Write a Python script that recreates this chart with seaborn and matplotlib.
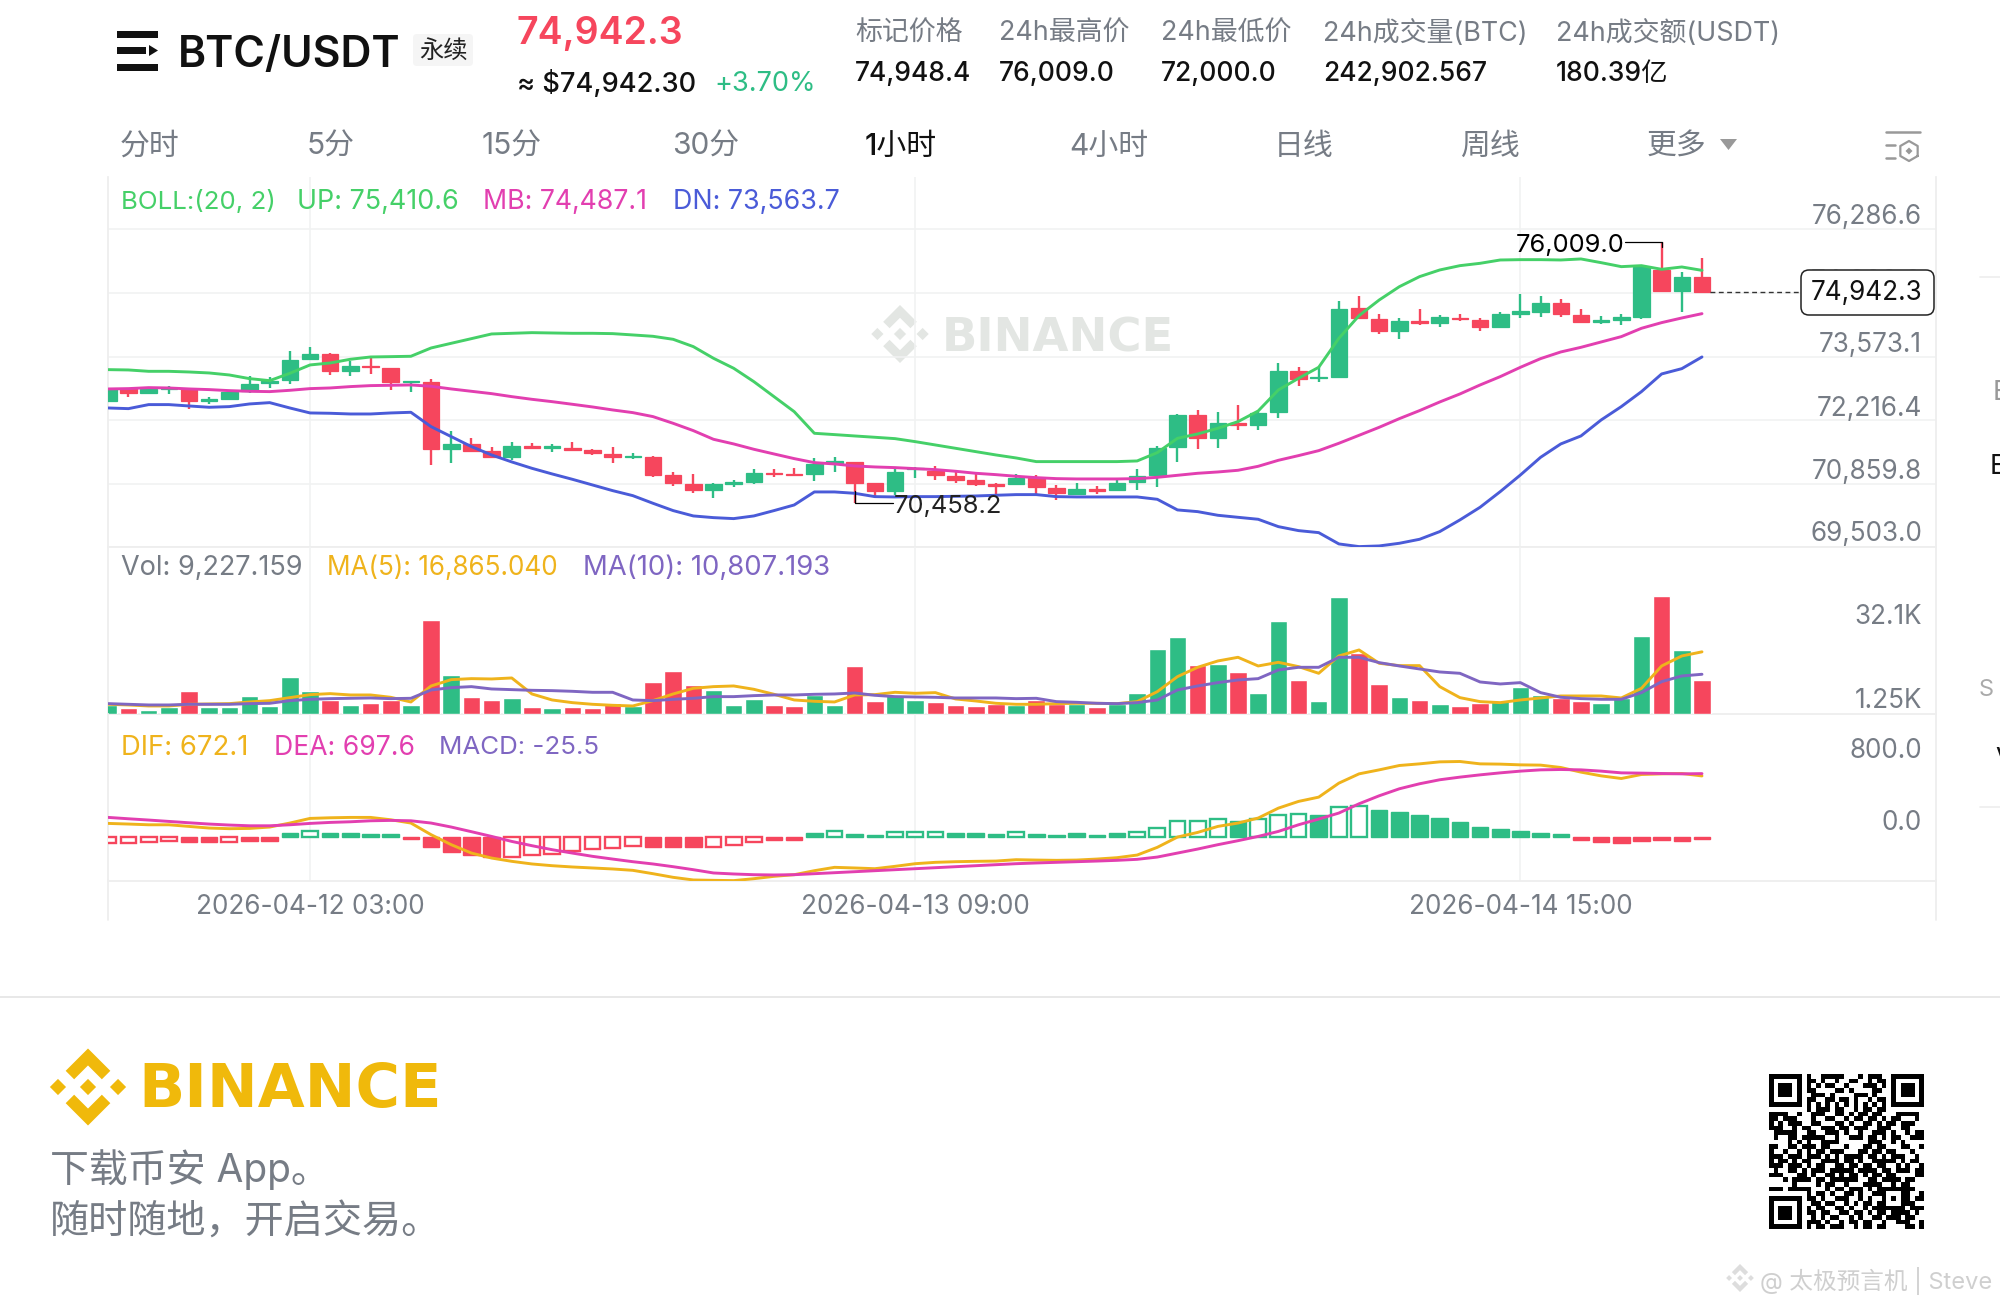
import numpy as np
import pandas as pd
import matplotlib.pyplot as plt
from matplotlib.patches import Polygon, FancyBboxPatch, Rectangle
import seaborn as sns

# hourly candles, 2026-04-11 17:00 onwards
opens = [72632,72874,72803,72888,72881,72625,72660,72831,73002,73066,73521,73627,73257,73378,73322,73023,73030,71608,71715,71551,
         71437,71658,71629,71622,71580,71487,71423,71430,71039,70854,70719,70861,70897,71096,71075,71061,71302,71316,70869,70712,
         71174,71125,71032,70933,70854,70854,70975,70762,70648,70748,70719,70890,71046,71636,72333,71828,72148,72106,72390,73265,
         73108,73144,74601,74374,74125,74338,74296,74402,74353,74196,74488,74516,74708,74466,74317,74345,74416,75419,74978,75263]
closes = [72874,72803,72874,72909,72618,72660,72824,72987,73058,73506,73627,73257,73371,73343,73023,73058,71608,71715,71565,71437,
          71658,71622,71658,71587,71508,71423,71459,71053,70869,70719,70854,70897,71089,71061,71046,71288,71338,70883,70712,71117,
          71188,71053,70947,70854,70812,70989,70783,70662,70741,70705,70869,71032,71615,72333,71836,72148,72106,72376,73265,73101,
          73144,74594,74388,74125,74338,74296,74409,74367,74196,74480,74537,74708,74480,74317,74360,74416,75490,74978,75263,74942.3]
highs = [72895,72895,72895,72945,72895,72717,72838,73165,73144,73691,73769,73641,73485,73535,73322,73058,73087,71985,71828,71651,
         71743,71722,71715,71750,71594,71651,71508,71459,71110,71061,70883,70940,71181,71167,71188,71402,71423,71316,70869,71203,
         71224,71245,71103,71096,70869,71061,71046,70826,70869,70812,70940,71174,71672,72347,72433,72383,72547,72390,73442,73343,
         73357,74758,74864,74480,74402,74580,74459,74480,74388,74523,74907,74864,74793,74580,74431,74473,75526,76009,75383,75682]
lows = [72632,72717,72795,72767,72461,72561,72646,72788,72902,72995,73499,73186,73158,73194,72859,72824,71253,71295,71565,71409,
        71366,71608,71544,71551,71466,71309,71381,71004,70819,70655,70556,70783,70847,71004,71039,70918,71110,70458.2,70549,70620,
        70982,70940,70869,70812,70620,70840,70641,70513,70634,70634,70705,70726,70783,71324,71608,71629,72006,71999,72255,72952,
        73037,73144,74388,74054,73947,74239,74210,74324,74111,74189,74395,74424,74409,74310,74274,74239,74374,74978,74516,74942]

boll_up = [73293,73286,73257,73257,73243,73222,73179,73101,73058,73215,73393,73435,73514,73563,73570,73578,73755,73855,73954,74054,
           74068,74082,74075,74068,74068,74061,74033,74004,73940,73784,73535,73322,73037,72717,72397,71935,71907,71878,71850,71821,
           71757,71686,71615,71544,71473,71409,71331,71331,71331,71331,71331,71345,71523,71828,71921,72042,72184,72411,72859,73108,
           73343,73961,74445,74779,75063,75277,75419,75511,75561,75632,75639,75639,75632,75654,75575,75490,75511,75433,75483,75410.6]
boll_mb = [72881,72888,72909,72902,72881,72867,72845,72831,72824,72852,72888,72902,72931,72952,72959,72966,72938,72881,72831,72781,
           72717,72660,72610,72554,72497,72433,72376,72291,72148,71992,71807,71708,71594,71494,71395,71309,71281,71238,71217,71203,
           71181,71160,71125,71082,71053,71018,70989,70968,70961,70961,70961,70968,70996,71039,71082,71110,71146,71231,71359,71459,
           71565,71722,71892,72063,72248,72419,72603,72774,72966,73144,73343,73528,73670,73769,73883,73997,74175,74296,74395,74487.1]
boll_dn = [72475,72461,72547,72547,72518,72490,72504,72561,72589,72475,72369,72362,72347,72347,72369,72383,72077,71864,71651,71473,
           71324,71188,71068,70954,70833,70712,70605,70442,70286,70172,70136,70115,70172,70286,70406,70684,70684,70655,70584,70577,
           70584,70584,70591,70598,70613,70627,70627,70584,70577,70577,70577,70577,70527,70300,70264,70186,70143,70101,69944,69859,
           69816,69575,69518,69532,69589,69674,69838,70087,70357,70691,71046,71423,71708,71878,72219,72504,72824,73201,73314,73563.7]

volumes = [2520,1710,1260,2070,6210,2070,2070,5040,2250,10080,6300,3870,2610,3150,3870,2610,25380,10530,4680,3960,
           4320,2070,1710,2070,1800,2970,2250,8820,11610,7920,6570,2610,4230,2610,2160,5130,2610,13050,3600,5130,
           3960,3420,2610,2250,2790,2520,3870,2790,2700,2070,2790,5670,17550,20790,13410,13590,11520,5760,25290,9270,
           3600,31770,16650,8190,4770,3870,2790,2250,3060,3690,7470,5220,4320,3690,3060,4320,21150,32040,17280,9227.159]
vol_ma5 = [2700,2520,2250,2250,2700,2790,2880,3330,3690,4500,5310,5580,5220,5220,4590,3330,7650,9360,9630,9540,
           9810,5490,3870,3150,2700,2430,2250,3690,5490,7020,7470,7650,6750,5400,3870,3510,3330,5220,5310,5940,
           5670,5850,4140,3600,2970,2700,2700,2880,2970,2970,2880,3420,6120,10170,12690,14400,15390,13050,14040,12870,
           11070,15750,17370,13770,13140,13140,7470,4500,3420,3150,3870,4410,4950,4950,4950,4410,7020,13050,15750,16865.04]
vol_ma10 = [2880,2700,2520,2520,2700,2700,2700,2880,2970,3690,4050,4230,4320,4410,4230,4320,6570,7200,7470,6840,
            6660,6480,6390,6210,5940,5940,3870,3690,4050,4320,4770,4770,5040,5220,5220,5400,5490,5760,5130,4770,
            4680,4590,4410,4410,4410,4230,4320,3420,3240,2970,2880,3150,3870,6570,7650,8550,9270,9630,11970,12690,
            12690,15390,15390,13950,13050,12240,11430,11070,8730,8190,8550,5850,4590,4230,4050,4050,5850,8820,10350,10807.193]

dif = [150,143,135,135,117,99,92,95,110,154,205,212,216,216,190,154,26,-84,-176,-231,
       -267,-296,-315,-329,-340,-351,-366,-403,-443,-472,-476,-479,-458,-432,-414,-370,-333,-340,-348,-322,
       -293,-278,-271,-267,-264,-249,-253,-256,-253,-242,-227,-198,-113,0,51,117,154,209,318,392,
       439,593,695,739,787,805,827,831,805,802,794,791,765,714,673,644,688,695,699,672.1]
dea = [216,201,187,172,157,143,132,124,124,135,150,161,168,179,183,179,154,110,59,7,
       -48,-95,-139,-176,-212,-242,-271,-296,-326,-359,-395,-406,-414,-417,-414,-403,-392,-381,-370,-359,
       -348,-337,-326,-315,-304,-293,-285,-278,-271,-264,-256,-245,-220,-176,-132,-84,-40,7,62,135,
       198,264,366,454,531,586,630,659,684,706,725,739,743,739,725,706,703,699,695,697.6]
macd = [-66,-66,-55,-48,-51,-51,-59,-40,-40,40,62,40,40,33,29,-26,-113,-165,-201,-220,
        -216,-194,-183,-157,-135,-124,-99,-106,-110,-113,-106,-84,-55,-37,-37,40,62,37,26,51,
        59,59,44,40,37,51,33,22,40,26,40,51,99,172,172,194,179,198,242,253,
        242,326,337,300,275,238,205,165,110,88,62,48,29,-29,-51,-66,-44,-29,-40,-25.5]
macd_hollow = [0,1,2,3,6,10,20,21,22,23,24,25,26,30,31,32,36,39,40,41,45,51,52,53,54,55,57,58,59,61,62]

price_ticks = [76286.6, 74929.8, 73573.1, 72216.4, 70859.8, 69503.0]
price_labels = ['76,286.6', '73,573.1', '72,216.4', '70,859.8', '69,503.0']
time_ticks = [10, 40, 70]
time_labels = ['2026-04-12 03:00', '2026-04-13 09:00', '2026-04-14 15:00']
tabs = ['分时', '5分', '15分', '30分', '1小时', '4小时', '日线', '周线', '更多']
stat_names = ['标记价格', '24h最高价', '24h最低价', '24h成交量(BTC)', '24h成交额(USDT)']
stat_values = ['74,948.4', '76,009.0', '72,000.0', '242,902.567', '180.39亿']

qr_top = ['0100111110001011100','0110100100110010110','0101011001000111010','0110000110100001100',
          '0011101000011101000','0110011011010010110','0101010101010101010']
qr_mid = ['000000001011101100101101100000000','111100100111001101011011000111110','110111000100110010110110101100010',
          '101011100110001101001101011011100','111001011001110110111001110011000','011111001100111010010011101001011',
          '010011011111001001110110101100111','000010101001111000000111001010000','110011011101100010001101100011001',
          '100100101011011100011011011000100','111011101110101011110110101110010','101101011001111011010011111010110',
          '111011101011001101101101100101001','010011010111011111011110110111011','111000110100110101101011011000011',
          '000101111011011111100110111101100','000001000010110010001111001011000','111011111000101101110101111101100',
          '000000001011010011010011000101001']
qr_bot = ['01101001110010100101011011','00110110010101101101011100','01011001101001011010010111','01101100110110101101111010',
          '00101011001010011011101100','01110100101101100100111001','01011011100101101100001101']

GREEN = '#2ebd85'
RED = '#f6465d'
GRID = '#f1f2f2'
GRAY = '#767c85'
UP_C = '#45d068'
MB_C = '#e23fb0'
DN_C = '#4a5bd8'
YEL = '#efb31c'
PUR = '#7f66c2'

sns.set_theme(style='white')
plt.rcParams['font.family'] = ['Inter', 'Noto Sans CJK SC', 'DejaVu Sans']
plt.rcParams['axes.unicode_minus'] = False

W, H = 2000, 1305
fig = plt.figure(figsize=(W / 100, H / 100), dpi=100, facecolor='white')

# pixel-space layers for the app chrome around the panes
bg = fig.add_axes([0, 0, 1, 1], zorder=0)
fg = fig.add_axes([0, 0, 1, 1], zorder=5, facecolor='none')
for a in (bg, fg):
    a.set_xlim(0, W)
    a.set_ylim(H, 0)
    a.axis('off')


def pane(top, bottom, zorder=2):
    ax = fig.add_axes([108.3 / W, 1 - bottom / H, (1936 - 108.3) / W, (bottom - top) / H], zorder=zorder, facecolor='none')
    ax.set_xlim(0, 90.6)
    ax.set_xticks(time_ticks)
    ax.set_xticklabels([])
    ax.grid(True, axis='x', color=GRID, lw=1.2)
    ax.tick_params(length=0, labelleft=False)
    ax.set_yticks([])
    ax.set_xlabel('')
    ax.set_ylabel('')
    for s in ax.spines.values():
        s.set_color('#eeeeee')
        s.set_linewidth(1.3)
    ax.spines['top'].set_visible(False)
    ax.set_axisbelow(True)
    return ax


def text(x, y, s, size, color='black', ax=fg, **kw):
    # centre the glyphs the way the app does, text sits a touch low
    kw.setdefault('va', 'center')
    return ax.text(x, y + 9, s, fontsize=size, color=color, **kw)


def logo(ax, cx, cy, r, color):
    def poly(pts):
        ax.add_patch(Polygon([(cx + px * r, cy + py * r) for px, py in pts], closed=True, fc=color, ec='none'))
    d = 0.21
    for ox in (-0.78, 0, 0.78):
        poly([(ox - d, 0), (ox, -d), (ox + d, 0), (ox, d)])
    for sign in (-1, 1):
        poly([(0, sign), (0.58, sign * 0.42), (0.36, sign * 0.2), (0, sign * 0.56), (-0.36, sign * 0.2), (-0.58, sign * 0.42)])


idx = np.arange(len(closes))
up = np.array(closes) >= np.array(opens)
cols = np.where(up, GREEN, RED)

# ---- price pane
ax1 = pane(176.7, 547.3)
ax1.set_ylim(69503.0, 77408.6)
ax1.set_yticks(price_ticks)
ax1.grid(True, axis='y', color=GRID, lw=1.2)
ax1.vlines(idx, lows, highs, colors=cols, lw=1.7, zorder=2)
ax1.bar(idx, np.abs(np.array(closes) - np.array(opens)), bottom=np.minimum(opens, closes), width=0.82,
        color=cols, edgecolor=cols, lw=0.9, zorder=3)
for vals, c in ((boll_up, UP_C), (boll_mb, MB_C), (boll_dn, DN_C)):
    sns.lineplot(x=idx, y=vals, color=c, lw=2.1, estimator=None, sort=False, ax=ax1, zorder=4)
ax1.set_xlim(0, 90.6)
ax1.set_xlabel('')
ax1.set_ylabel('')
ax1.tick_params(labelleft=False)

# high / low / last price markers
ax1.plot([75.2, 77, 77], [76009, 76009, 75900], color='black', lw=0.9, zorder=5)
ax1.text(75.15, 75950, '76,009.0', ha='right', va='center', fontsize=18.4, color='black', zorder=6)
ax1.plot([37, 37, 38.9], [70700, 70458.2, 70458.2], color='black', lw=0.9, zorder=5)
ax1.text(38.95, 70370, '70,458.2', ha='left', va='center', fontsize=18.4, color='#222222', zorder=6)
ax1.plot([79.4, 83.8], [closes[-1], closes[-1]], color='#333333', lw=1, ls=(0, (3.5, 2.5)), zorder=5)

# ---- volume pane
ax2 = pane(547.3, 714.3)
ax2.set_ylim(0, 45090)
vol_df = pd.DataFrame({'i': idx, 'v': volumes, 'side': np.where(up, 'up', 'down')})
sns.barplot(data=vol_df, x='i', y='v', hue='side', palette={'up': GREEN, 'down': RED}, native_scale=True,
            dodge=False, width=0.87, saturation=1, legend=False, ax=ax2, zorder=3)
sns.lineplot(x=idx, y=vol_ma5, color=YEL, lw=2.1, estimator=None, sort=False, ax=ax2, zorder=4)
sns.lineplot(x=idx, y=vol_ma10, color=PUR, lw=2.1, estimator=None, sort=False, ax=ax2, zorder=5)
ax2.set_xlim(0, 90.6)
ax2.set_ylim(0, 45090)
ax2.set_xticks(time_ticks)
ax2.set_xticklabels([])
ax2.set_xlabel('')
ax2.set_ylabel('')

# ---- macd pane
ax3 = pane(714.3, 880.7)
ax3.set_ylim(-480, 1350)
macd_arr = np.array(macd, dtype=float)
for i, m in enumerate(macd_arr):
    c = GREEN if m > 0 else RED
    if i in macd_hollow:
        ax3.bar(i, m, width=0.78, facecolor='white', edgecolor=c, lw=1.7, zorder=3)
    else:
        ax3.bar(i, m, width=0.82, color=c, edgecolor=c, lw=1.0, zorder=3)
sns.lineplot(x=idx, y=dif, color=YEL, lw=2.1, estimator=None, sort=False, ax=ax3, zorder=4)
sns.lineplot(x=idx, y=dea, color=MB_C, lw=2.1, estimator=None, sort=False, ax=ax3, zorder=5)
ax3.set_xlim(0, 90.6)
ax3.set_xlabel('')
ax3.set_ylabel('')
ax3.set_xticklabels(time_labels, fontsize=18.8, color=GRAY)
ax3.tick_params(axis='x', pad=9.5, labelbottom=True)
ax3.tick_params(labelleft=False)

# borders continue through the time axis strip
bg.plot([108.3, 108.3], [880, 920], color='#eeeeee', lw=1.3)
bg.plot([1936, 1936], [880, 920], color='#eeeeee', lw=1.3)

# ---- watermark
logo(bg, 900, 334, 29, '#e3e6e3')
text(942, 330, 'BINANCE', 33.5, '#e3e6e3', ax=bg, family='DejaVu Sans', weight='bold')

# ---- header
for y0, y1, x1 in ((31, 37.5, 158), (47, 54, 146), (63.5, 70.5, 158)):
    fg.add_patch(Rectangle((117, y0), x1 - 117, y1 - y0, fc='#111111', ec='none'))
fg.add_patch(Polygon([(149, 45), (158, 50.5), (149, 56)], closed=True, fc='#111111', ec='none'))
text(178, 46, 'BTC/USDT', 30.8, '#111111', weight='semibold')
fg.add_patch(FancyBboxPatch((413, 34), 60, 32, boxstyle='round,pad=0,rounding_size=4', fc='#f5f5f5', ec='none'))
text(443, 42, '永续', 17.5, '#222222', ha='center')
text(517, 25, '74,942.3', 27, RED, weight='semibold')
text(517, 75, '≈ $74,942.30', 19.6, '#111111', weight='medium')
text(714, 75, '+3.70%', 19.5, GREEN)
for x, n, v in zip((855, 999, 1161, 1323, 1556), stat_names, stat_values):
    text(x, 25, n, 19.4, GRAY)
    text(x, 65, v, 19, '#111111', weight='medium')

# ---- interval tabs
for x, t in zip((120, 307, 482, 672, 865, 1069, 1274, 1460, 1647), tabs):
    if t == '1小时':
        text(x, 138, t, 21.5, '#111111', weight='medium')
    else:
        text(x, 138, t, 21.5, GRAY)
fg.add_patch(Polygon([(1720, 139), (1737, 139), (1728.5, 150)], closed=True, fc='#999999', ec='none'))
fg.plot([1886, 1920], [132, 132], color='#999999', lw=1.8)
fg.plot([1886, 1895], [145, 145], color='#999999', lw=1.8)
fg.plot([1886, 1895], [158, 158], color='#999999', lw=1.8)
ang = np.deg2rad(np.arange(30, 391, 60))
fg.plot(1909 + 10 * np.cos(ang), 151 + 10 * np.sin(ang), color='#999999', lw=1.6)
fg.add_patch(Polygon([(1905.5, 151), (1909, 147.5), (1912.5, 151), (1909, 154.5)], closed=True, fc='#999999', ec='none'))

# ---- indicator legends
text(121, 193, 'BOLL:(20, 2)', 18.6, UP_C)
text(297, 193, 'UP: 75,410.6', 19.4, UP_C)
text(483, 193, 'MB: 74,487.1', 19.2, MB_C)
text(673, 193, 'DN: 73,563.7', 19.3, DN_C)
text(121, 559, 'Vol: 9,227.159', 19.5, GRAY)
text(327, 559, 'MA(5): 16,865.040', 18.8, YEL)
text(583, 559, 'MA(10): 10,807.193', 19.8, PUR)
text(121, 739, 'DIF: 672.1', 19.8, YEL)
text(274, 739, 'DEA: 697.6', 19.1, MB_C)
text(439, 739, 'MACD: -25.5', 18.7, PUR)

# ---- right side scale
for y, s in zip((208, 336, 400, 463, 525), price_labels):
    text(1922, y, s, 18.8, GRAY, ha='right')
text(1922, 273, '74,929.8', 18.8, '#c8cacd', ha='right')
fg.add_patch(FancyBboxPatch((1801, 270), 133, 45, boxstyle='round,pad=0,rounding_size=8', fc='white', ec='#222222', lw=1.1, zorder=3))
text(1922, 284, '74,942.3', 18.8, '#111111', ha='right', zorder=4)
text(1922, 608, '32.1K', 18.8, GRAY, ha='right')
text(1922, 692, '1.25K', 18.8, GRAY, ha='right')
text(1922, 742, '800.0', 18.8, GRAY, ha='right')
text(1922, 814, '0.0', 18.8, GRAY, ha='right')

# cut-off sidebar at the right edge
text(1993, 384, 'E', 19, '#999999')
text(1990, 458, 'E', 19, '#111111')
text(1979, 681, 'S', 17, '#aaaaaa')
text(1995, 751, 'V', 19, '#111111')
fg.plot([1980, 2000], [277, 277], color='#eeeeee', lw=1.2)
fg.plot([1980, 2000], [807, 807], color='#eeeeee', lw=1.2)

# ---- footer
bg.plot([0, W], [997, 997], color='#e6e6e6', lw=1.3)
logo(fg, 88, 1087, 38.5, '#f0b90b')
text(138, 1082, 'BINANCE', 43.7, '#f0b90b', family='DejaVu Sans', weight='bold')
text(50, 1161, '下载币安 App。', 28, GRAY)
text(50, 1214, '随时随地，开启交易。', 28.2, GRAY)

qr = np.zeros((33, 33), dtype=int)
for r, row in enumerate(qr_top):
    qr[r, 7:26] = [int(c) for c in row]
for r, row in enumerate(qr_mid):
    qr[r + 7, :] = [int(c) for c in row]
for r, row in enumerate(qr_bot):
    qr[r + 26, 7:] = [int(c) for c in row]
for r0, c0 in ((0, 0), (0, 26), (26, 0)):
    qr[r0:r0 + 7, c0:c0 + 7] = 1
    qr[r0 + 1:r0 + 6, c0 + 1:c0 + 6] = 0
    qr[r0 + 2:r0 + 5, c0 + 2:c0 + 5] = 1
qr[24:29, 24:29] = 1
qr[25:28, 25:28] = 0
qr[26, 26] = 1
fg.imshow(qr, cmap='gray_r', extent=(1769, 1924, 1229, 1074), aspect='auto', interpolation='nearest', vmin=0, vmax=1)
fg.set_xlim(0, W)
fg.set_ylim(H, 0)

# repost stamp
logo(fg, 1740, 1278, 14, '#dddddd')
text(1760, 1272, '@ 太极预言机 | Steve', 17, '#cfcfcf')

fig.savefig('out.png', dpi=100, facecolor='white')
